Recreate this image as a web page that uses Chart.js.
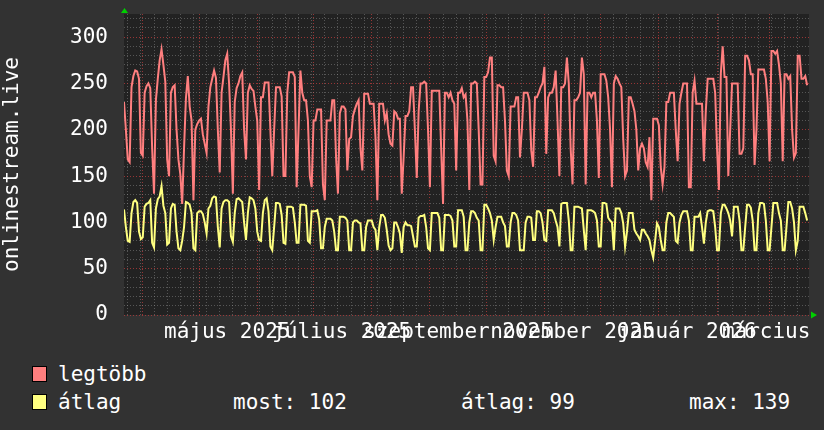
<!DOCTYPE html>
<html>
<head>
<meta charset="utf-8">
<script src="https://cdn.jsdelivr.net/npm/chart.js@4/dist/chart.umd.min.js"></script>
<style>
  body { margin: 0; background: #323232; width: 824px; height: 430px; overflow: hidden; position: relative;
         font-family: "DejaVu Sans Mono", monospace; color: #fff; }
  #wrap { position: absolute; left: 0; top: 0; width: 824px; height: 350px; }
  .row { position: absolute; left: 0; width: 824px; height: 24px; font-size: 21px; line-height: 24px; }
  .sw { position: absolute; left: 32px; top: 4px; width: 13px; height: 14px; border: 1px solid #000; }
  .t { position: absolute; top: 0; white-space: pre; }
</style>
</head>
<body>
<div id="wrap"><canvas id="chart" width="824" height="350"></canvas></div>
<div class="row" style="top:362px"><span class="sw" id="sw0"></span><span class="t" id="name0" style="left:58px"></span></div>
<div class="row" style="top:390px"><span class="sw" id="sw1"></span><span class="t" id="name1" style="left:58px"></span>
  <span class="t" id="st0" style="left:233px"></span>
  <span class="t" id="st1" style="left:461px"></span>
  <span class="t" id="st2" style="left:689px"></span>
</div>
<script>
// one point per day, day 0 = 2025-03-22
const maxVals = [
  230,200,168,165,246,258,264,263,255,175,
  172,240,247,250,245,180,131,232,255,275,
  287,270,252,168,150,240,246,248,200,168,
  152,120,180,234,258,225,210,124,200,206,
  210,212,195,185,175,225,246,255,264,256,
  200,154,240,257,275,282,250,200,131,230,
  245,250,258,262,200,168,240,248,244,242,
  225,210,135,235,235,251,251,251,200,150,
  200,246,246,246,236,150,150,240,262,262,
  262,257,138,200,264,240,232,232,210,150,
  138,210,210,222,222,222,141,124,210,210,
  210,232,232,170,131,218,225,225,222,156,
  190,192,215,222,228,232,180,156,239,239,
  239,228,228,228,192,124,228,228,228,210,
  218,195,185,183,220,218,212,212,131,170,
  215,215,220,246,246,200,148,220,250,250,
  252,250,200,138,242,242,242,242,242,180,
  120,240,240,235,240,232,228,156,240,240,
  245,235,238,210,135,250,250,252,250,200,
  141,141,257,257,262,278,278,172,166,248,
  248,246,246,210,156,150,225,225,225,235,
  235,170,200,240,240,240,232,178,160,235,
  235,240,246,250,268,174,235,240,240,246,
  264,210,150,246,246,250,278,250,180,141,
  232,232,235,240,278,260,141,240,240,235,
  240,240,210,148,260,260,260,253,235,200,
  138,250,258,255,250,246,190,150,156,235,
  235,228,220,200,156,180,185,180,165,160,
  192,124,212,212,212,205,160,141,160,230,
  230,240,240,240,200,166,228,240,250,250,
  250,138,138,240,253,228,228,228,228,166,
  220,255,255,255,255,240,180,135,260,290,
  257,257,150,200,250,250,250,250,174,174,
  180,280,280,275,260,260,162,200,265,265,
  265,265,255,230,166,285,285,282,285,270,
  250,166,260,260,255,258,200,170,175,280,
  280,255,255,258,248
];
const avgVals = [
  114,95,80,79,110,122,124,121,90,82,
  84,117,120,121,124,78,73,115,125,128,
  139,118,110,76,78,115,120,119,90,72,
  70,80,95,122,121,119,110,72,70,110,
  112,112,109,100,88,115,118,126,128,127,
  95,73,115,122,124,124,122,85,79,110,
  125,126,124,122,100,81,110,127,126,124,
  115,90,81,80,110,124,126,112,74,70,
  95,121,121,120,108,78,77,117,117,117,
  116,100,78,78,119,119,119,118,80,78,
  112,112,112,113,103,72,72,95,104,104,
  104,102,90,70,70,106,106,106,105,102,
  70,70,100,102,102,100,99,70,70,95,
  102,102,102,95,92,70,95,108,108,105,
  92,75,70,72,100,100,95,88,67,95,
  100,97,97,96,85,74,74,105,107,107,
  108,95,72,70,110,110,110,110,105,70,
  70,108,108,108,107,102,74,74,113,113,
  113,106,70,70,100,112,112,110,105,102,
  70,70,119,119,115,110,102,81,95,106,
  106,106,100,96,74,74,100,110,110,108,
  102,70,70,70,100,106,106,105,81,81,
  112,112,110,100,81,80,113,113,113,110,
  102,95,74,120,121,121,121,102,70,70,
  117,117,117,116,115,92,70,113,113,113,
  112,110,102,74,74,121,121,120,105,102,
  100,70,115,115,115,110,99,74,90,110,
  110,110,92,88,85,81,92,92,88,85,
  81,70,62,80,99,95,81,70,70,100,
  110,110,108,106,80,78,100,108,112,112,
  112,102,70,70,106,106,106,110,95,77,
  100,112,113,113,112,95,70,70,110,119,
  119,115,110,102,85,117,117,117,102,70,
  70,95,119,119,116,102,70,70,110,121,
  121,120,102,70,70,95,121,121,121,110,
  102,70,70,95,122,122,115,100,70,80,
  117,117,117,110,102
];
const seriesNames = ["legtöbb", "átlag"];
const seriesColors = ["#ff7f7f", "#ffff80"];
const statLabels = ["most:", "átlag:", "max:"];
const statValues = [102, 99, 139];

// day index of the 1st of each month, and of each month label
const monthStarts = [10, 40, 71, 101, 132, 163, 193, 224, 254, 285, 316, 344];
const labelDays = [55, 116, 178, 239, 300, 359];
const labelTexts = ["május 2025", "július 2025", "szeptember 2025", "november 2025", "január 2026", "március 2026"];
const firstMonday = 2;
const yTickValues = [0,10,20,30,40,50,60,70,80,90,100,110,120,130,140,150,160,170,180,190,200,210,220,230,240,250,260,270,280,290,300,310,320];

const days = maxVals.map((_, i) => i);
const FONT = "'DejaVu Sans Mono', monospace";

let xTicks = [...monthStarts, ...labelDays];
for (let d = firstMonday; d <= 365; d += 7) xTicks.push(d);
xTicks = [...new Set(xTicks)].sort((a, b) => a - b);

function xGridColor(v) {
  if (monthStarts.includes(v)) return "rgba(190,60,60,0.75)";
  if ((v - firstMonday) % 7 === 0) return "rgba(150,150,150,0.45)";
  return "rgba(0,0,0,0)";
}

const frame = {
  id: "frame",
  beforeDraw(chart) {
    const { ctx, chartArea: a } = chart;
    ctx.save();
    ctx.fillStyle = "#222222";
    ctx.fillRect(a.left, a.top, a.right - a.left, a.bottom - a.top);
    ctx.restore();
  },
  afterDraw(chart) {
    const { ctx, chartArea: a } = chart;
    ctx.save();
    ctx.fillStyle = "#00d000";
    ctx.beginPath();
    ctx.moveTo(a.left + 0.5, a.top - 6);
    ctx.lineTo(a.left - 3, a.top - 1);
    ctx.lineTo(a.left + 4, a.top - 1);
    ctx.fill();
    ctx.beginPath();
    ctx.moveTo(a.right + 8, a.bottom);
    ctx.lineTo(a.right + 2, a.bottom - 3.5);
    ctx.lineTo(a.right + 2, a.bottom + 3.5);
    ctx.fill();
    ctx.restore();
  }
};

new Chart(document.getElementById("chart"), {
  type: "line",
  data: {
    labels: days,
    datasets: [
      { label: seriesNames[0], data: maxVals, borderColor: seriesColors[0], borderWidth: 2, pointRadius: 0, tension: 0, order: 2 },
      { label: seriesNames[1], data: avgVals, borderColor: seriesColors[1], borderWidth: 2, pointRadius: 0, tension: 0, order: 1 }
    ]
  },
  options: {
    responsive: false,
    animation: false,
    devicePixelRatio: 1,
    layout: { padding: { top: 14, right: 15, left: 0, bottom: 0 } },
    plugins: { legend: { display: false }, tooltip: { enabled: false } },
    scales: {
      x: {
        type: "linear",
        min: 0,
        max: 365,
        afterBuildTicks: s => { s.ticks = xTicks.map(v => ({ value: v })); },
        afterFit: s => { s.height = 35; s.paddingLeft = 0; s.paddingRight = 0; },
        grid: { color: c => xGridColor(c.tick.value), drawTicks: false, lineWidth: 1 },
        border: { display: false, dash: [1, 2] },
        ticks: {
          autoSkip: false, maxRotation: 0, minRotation: 0, padding: 5,
          color: "#ffffff", font: { family: FONT, size: 21 },
          callback: v => { const i = labelDays.indexOf(v); return i < 0 ? "" : labelTexts[i]; }
        }
      },
      y: {
        min: 0,
        max: 325,
        afterBuildTicks: s => { s.ticks = yTickValues.map(v => ({ value: v })); },
        afterFit: s => { s.width = 124; s.paddingTop = 0; s.paddingBottom = 0; },
        grid: {
          color: c => c.tick.value % 50 === 0 ? "rgba(190,60,60,0.75)" : "rgba(150,150,150,0.45)",
          drawTicks: false, lineWidth: 1
        },
        border: { display: false, dash: [1, 2] },
        title: { display: true, text: "onlinestream.live", color: "#ffffff", font: { family: FONT, size: 21 }, padding: 0 },
        ticks: {
          autoSkip: false, padding: 16, color: "#ffffff", font: { family: FONT, size: 21 },
          callback: v => v % 50 === 0 ? String(v) : ""
        }
      }
    }
  },
  plugins: [frame]
});

// legend rows
seriesNames.forEach((n, i) => {
  document.getElementById("name" + i).textContent = n;
  document.getElementById("sw" + i).style.background = seriesColors[i];
});
statLabels.forEach((l, i) => {
  document.getElementById("st" + i).textContent = l + " " + statValues[i];
});
</script>
</body>
</html>
